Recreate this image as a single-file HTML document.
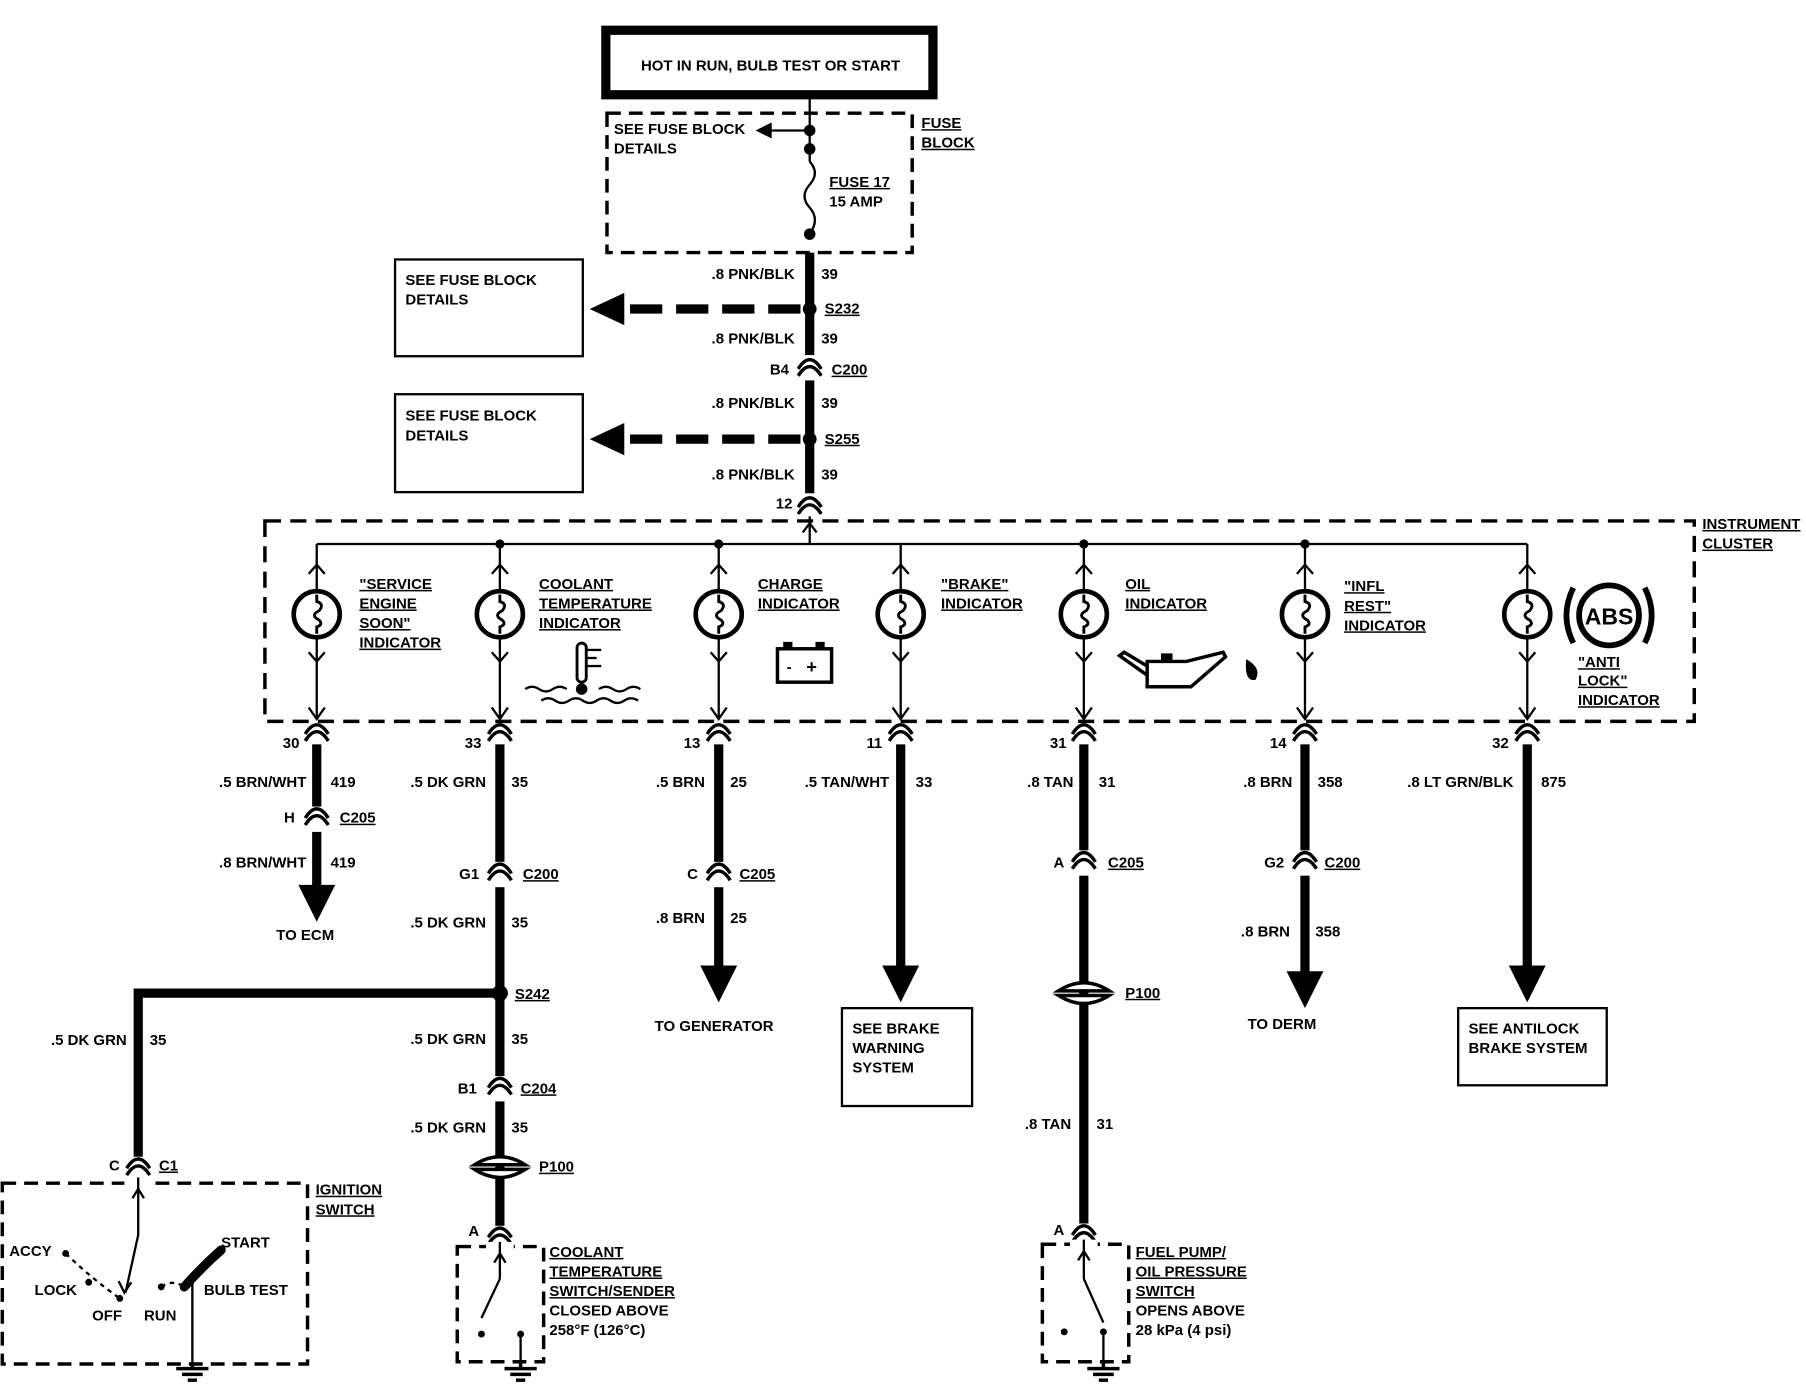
<!DOCTYPE html>
<html><head><meta charset="utf-8">
<style>
html,body{margin:0;padding:0;background:#fff;}
svg{display:block}
text{font-family:"Liberation Sans",sans-serif;font-weight:bold;font-size:13px;fill:#000}
.u{text-decoration:underline}
.r{text-anchor:end}
.m{text-anchor:middle}
</style></head><body>
<svg width="1806" height="1392" viewBox="0 0 1568 1208" xmlns="http://www.w3.org/2000/svg">
<defs>
<g id="conn"><path d="M-10,7 Q0,-9 10,7" fill="none" stroke="#000" stroke-width="3"/><path d="M-10,13 Q0,-3 10,13" fill="none" stroke="#000" stroke-width="3"/></g>
<g id="bulb">
<line x1="0" y1="0" x2="0" y2="40" stroke="#000" stroke-width="2"/>
<path d="M-7,26 L0,18 L7,26" fill="none" stroke="#000" stroke-width="2"/>
<circle cx="0" cy="61" r="20" fill="#fff" stroke="#000" stroke-width="4"/>
<path d="M0,44 L0,50 Q7,52 2,58 Q-6,62 2,66 Q6,70 0,72 L0,78" fill="none" stroke="#000" stroke-width="2.5"/>
<path d="M-7,94 L0,102 L7,94" fill="none" stroke="#000" stroke-width="2"/>
<line x1="0" y1="82" x2="0" y2="152" stroke="#000" stroke-width="2"/>
<path d="M-7,142 L0,152 L7,142" fill="none" stroke="#000" stroke-width="2"/>
</g>
<g id="gnd"><line x1="0" y1="0" x2="0" y2="6" stroke="#000" stroke-width="3"/><line x1="-14" y1="6" x2="14" y2="6" stroke="#000" stroke-width="3"/><line x1="-9" y1="11" x2="9" y2="11" stroke="#000" stroke-width="3"/><line x1="-4" y1="16" x2="4" y2="16" stroke="#000" stroke-width="3"/></g>
<g id="p100"><path d="M-22,0 Q0,-14 22,0 Z" fill="#fff" stroke="#000" stroke-width="3"/><path d="M-22,4 Q0,18 22,4 Z" fill="#fff" stroke="#000" stroke-width="3"/></g>
</defs>

<!-- top box -->
<rect x="526" y="26" width="284" height="56" fill="none" stroke="#000" stroke-width="8"/>
<text x="669" y="61" class="m">HOT IN RUN, BULB TEST OR START</text>

<!-- fuse block -->
<rect x="527" y="98" width="265" height="121" fill="none" stroke="#000" stroke-width="3" stroke-dasharray="12,7"/>
<text x="800" y="111" class="u">FUSE</text><text x="800" y="128" class="u">BLOCK</text>
<text x="533" y="116">SEE FUSE BLOCK</text><text x="533" y="133">DETAILS</text>
<line x1="703" y1="82" x2="703" y2="140" stroke="#000" stroke-width="2"/>
<line x1="703" y1="113" x2="668" y2="113" stroke="#000" stroke-width="2"/>
<path d="M656,113 L670,106 L670,120 Z"/>
<circle cx="703" cy="113" r="5"/><circle cx="703" cy="129" r="5"/><circle cx="703" cy="203" r="5"/>
<path d="M703,140 Q712,150 703,160 Q694,170 703,180 Q712,190 703,203" fill="none" stroke="#000" stroke-width="2"/>
<text x="720" y="162" class="u">FUSE 17</text><text x="720" y="179">15 AMP</text>

<!-- main feed -->
<line x1="703" y1="219" x2="703" y2="432" stroke="#000" stroke-width="8"/>
<text x="690" y="242" class="r">.8 PNK/BLK</text><text x="713" y="242">39</text>
<circle cx="703" cy="268" r="6"/>
<line x1="695" y1="268" x2="540" y2="268" stroke="#000" stroke-width="8" stroke-dasharray="28,12"/>
<path d="M512,268 L542,254 L542,282 Z"/>
<text x="716" y="272" class="u">S232</text>
<rect x="343" y="225" width="163" height="84" fill="none" stroke="#000" stroke-width="2"/>
<text x="352" y="247">SEE FUSE BLOCK</text><text x="352" y="264">DETAILS</text>
<text x="690" y="298" class="r">.8 PNK/BLK</text><text x="713" y="298">39</text>
<rect x="696" y="308" width="14" height="22" fill="#fff"/>
<use href="#conn" x="703" y="313"/>
<text x="685" y="325" class="r">B4</text><text x="722" y="325" class="u">C200</text>
<text x="690" y="354" class="r">.8 PNK/BLK</text><text x="713" y="354">39</text>
<circle cx="703" cy="381" r="6"/>
<line x1="695" y1="381" x2="540" y2="381" stroke="#000" stroke-width="8" stroke-dasharray="28,12"/>
<path d="M512,381 L542,367 L542,395 Z"/>
<text x="716" y="385" class="u">S255</text>
<rect x="343" y="342" width="163" height="85" fill="none" stroke="#000" stroke-width="2"/>
<text x="352" y="365">SEE FUSE BLOCK</text><text x="352" y="382">DETAILS</text>
<text x="690" y="416" class="r">.8 PNK/BLK</text><text x="713" y="416">39</text>
<text x="688" y="441" class="r">12</text>
<rect x="696" y="428" width="14" height="20" fill="#fff"/>
<use href="#conn" x="703" y="433"/>

<!-- instrument cluster -->
<rect x="230" y="452" width="1241" height="174" fill="none" stroke="#000" stroke-width="3" stroke-dasharray="14,8"/>
<text x="1478" y="459" class="u">INSTRUMENT</text><text x="1478" y="476" class="u">CLUSTER</text>
<line x1="275" y1="472" x2="1326" y2="472" stroke="#000" stroke-width="2"/>
<line x1="703" y1="448" x2="703" y2="472" stroke="#000" stroke-width="2"/>
<path d="M697,462 L703,454 L709,462" fill="none" stroke="#000" stroke-width="2"/>
<circle cx="434" cy="472" r="4"/><circle cx="624" cy="472" r="4"/><circle cx="941" cy="472" r="4"/><circle cx="1133" cy="472" r="4"/>
<use href="#bulb" x="275" y="472"/><use href="#bulb" x="434" y="472"/><use href="#bulb" x="624" y="472"/>
<use href="#bulb" x="782" y="472"/><use href="#bulb" x="941" y="472"/><use href="#bulb" x="1133" y="472"/><use href="#bulb" x="1326" y="472"/>

<text x="312" y="511" class="u">"SERVICE</text><text x="312" y="528" class="u">ENGINE</text><text x="312" y="545" class="u">SOON"</text><text x="312" y="562" class="u">INDICATOR</text>
<text x="468" y="511" class="u">COOLANT</text><text x="468" y="528" class="u">TEMPERATURE</text><text x="468" y="545" class="u">INDICATOR</text>
<text x="658" y="511" class="u">CHARGE</text><text x="658" y="528" class="u">INDICATOR</text>
<text x="817" y="511" class="u">"BRAKE"</text><text x="817" y="528" class="u">INDICATOR</text>
<text x="977" y="511" class="u">OIL</text><text x="977" y="528" class="u">INDICATOR</text>
<text x="1167" y="513" class="u">"INFL</text><text x="1167" y="530" class="u">REST"</text><text x="1167" y="547" class="u">INDICATOR</text>
<text x="1370" y="579" class="u">"ANTI</text><text x="1370" y="595" class="u">LOCK"</text><text x="1370" y="612" class="u">INDICATOR</text>
<!-- ABS icon -->
<circle cx="1397" cy="534" r="26" fill="none" stroke="#000" stroke-width="5"/>
<path d="M1366,510 Q1354,534 1366,558" fill="none" stroke="#000" stroke-width="5"/>
<path d="M1428,510 Q1440,534 1428,558" fill="none" stroke="#000" stroke-width="5"/>
<text x="1397" y="542" class="m" style="font-size:20px">ABS</text>
<!-- coolant icon -->
<rect x="501" y="558" width="8" height="34" rx="4" fill="none" stroke="#000" stroke-width="2.5"/>
<circle cx="505" cy="598" r="5"/>
<line x1="510" y1="564" x2="522" y2="564" stroke="#000" stroke-width="2"/><line x1="510" y1="571" x2="518" y2="571" stroke="#000" stroke-width="2"/><line x1="510" y1="578" x2="522" y2="578" stroke="#000" stroke-width="2"/>
<path d="M456,598 q6,-4 12,0 t12,0 t12,0 M520,598 q6,-4 12,0 t12,0 t12,0 M470,608 q6,-4 12,0 t12,0 t12,0 t12,0 t12,0 t12,0 t12,0" fill="none" stroke="#000" stroke-width="2"/>
<!-- battery icon -->
<rect x="675" y="563" width="47" height="29" fill="none" stroke="#000" stroke-width="3"/>
<rect x="680" y="557" width="8" height="6"/><rect x="708" y="557" width="8" height="6"/>
<text x="683" y="583">-</text><text x="700" y="584" style="font-size:16px">+</text>
<!-- oil can icon -->
<path d="M996,574 L1030,574 L1062,566 L1064,570 L1034,596 L996,596 Z M996,578 L976,566 L972,569 L996,586" fill="none" stroke="#000" stroke-width="3"/>
<rect x="1008" y="567" width="10" height="7"/>
<path d="M1082,572 Q1096,580 1090,590 Q1080,592 1082,572 Z"/>

<!-- pin numbers -->
<text x="260" y="649" class="r">30</text><text x="418" y="649" class="r">33</text><text x="608" y="649" class="r">13</text>
<text x="766" y="649" class="r">11</text><text x="926" y="649" class="r">31</text><text x="1117" y="649" class="r">14</text><text x="1310" y="649" class="r">32</text>

<g stroke="#000" stroke-width="8">
<line x1="275" y1="640" x2="275" y2="772"/>
<line x1="434" y1="640" x2="434" y2="1072"/>
<line x1="624" y1="640" x2="624" y2="842"/>
<line x1="782" y1="640" x2="782" y2="842"/>
<line x1="941" y1="640" x2="941" y2="1072"/>
<line x1="1133" y1="640" x2="1133" y2="848"/>
<line x1="1326" y1="640" x2="1326" y2="842"/>
<polyline points="434,862 120,862 120,1008" fill="none"/>
</g>
<g fill="#fff"><rect x="266" y="628" width="18" height="18"/><rect x="425" y="628" width="18" height="18"/><rect x="615" y="628" width="18" height="18"/><rect x="773" y="628" width="18" height="18"/><rect x="932" y="628" width="18" height="18"/><rect x="1124" y="628" width="18" height="18"/><rect x="1317" y="628" width="18" height="18"/></g>
<use href="#conn" x="275" y="630"/><use href="#conn" x="434" y="630"/><use href="#conn" x="624" y="630"/><use href="#conn" x="782" y="630"/><use href="#conn" x="941" y="630"/><use href="#conn" x="1133" y="630"/><use href="#conn" x="1326" y="630"/>

<!-- col1 -->
<text x="266" y="683" class="r">.5 BRN/WHT</text><text x="287" y="683">419</text>
<rect x="266" y="700" width="18" height="22" fill="#fff"/><use href="#conn" x="275" y="703"/>
<text x="256" y="714" class="r">H</text><text x="295" y="714" class="u">C205</text>
<text x="266" y="753" class="r">.8 BRN/WHT</text><text x="287" y="753">419</text>
<path d="M259,768 L291,768 L275,800 Z"/>
<text x="265" y="816" class="m">TO ECM</text>
<!-- col2 -->
<text x="422" y="683" class="r">.5 DK GRN</text><text x="444" y="683">35</text>
<rect x="425" y="748" width="18" height="22" fill="#fff"/><use href="#conn" x="434" y="751"/>
<text x="416" y="763" class="r">G1</text><text x="454" y="763" class="u">C200</text>
<text x="422" y="805" class="r">.5 DK GRN</text><text x="444" y="805">35</text>
<circle cx="434" cy="862" r="7"/><text x="447" y="867" class="u">S242</text>
<text x="110" y="907" class="r">.5 DK GRN</text><text x="130" y="907">35</text>
<text x="422" y="906" class="r">.5 DK GRN</text><text x="444" y="906">35</text>
<rect x="425" y="934" width="18" height="22" fill="#fff"/><use href="#conn" x="434" y="937"/>
<text x="414" y="949" class="r">B1</text><text x="452" y="949" class="u">C204</text>
<text x="422" y="983" class="r">.5 DK GRN</text><text x="444" y="983">35</text>
<use href="#p100" x="434" y="1011"/><text x="468" y="1017" class="u">P100</text>
<text x="416" y="1073" class="r">A</text>
<rect x="425" y="1064" width="18" height="20" fill="#fff"/><use href="#conn" x="434" y="1067"/>
<rect x="397" y="1082" width="75" height="100" fill="none" stroke="#000" stroke-width="3" stroke-dasharray="12,7"/>
<rect x="422" y="1078" width="24" height="8" fill="#fff"/>
<line x1="434" y1="1078" x2="434" y2="1110" stroke="#000" stroke-width="2"/>
<path d="M429,1096 L434,1088 L439,1096" fill="none" stroke="#000" stroke-width="2"/>
<line x1="434" y1="1110" x2="418" y2="1144" stroke="#000" stroke-width="2"/>
<circle cx="418" cy="1158" r="3"/><circle cx="452" cy="1158" r="3"/>
<line x1="452" y1="1158" x2="452" y2="1182" stroke="#000" stroke-width="2"/>
<use href="#gnd" x="452" y="1182"/>
<text x="477" y="1091" class="u">COOLANT</text><text x="477" y="1108" class="u">TEMPERATURE</text><text x="477" y="1125" class="u">SWITCH/SENDER</text><text x="477" y="1142">CLOSED ABOVE</text><text x="477" y="1159">258°F (126°C)</text>
<!-- col3 -->
<text x="612" y="683" class="r">.5 BRN</text><text x="634" y="683">25</text>
<rect x="615" y="748" width="18" height="22" fill="#fff"/><use href="#conn" x="624" y="751"/>
<text x="606" y="763" class="r">C</text><text x="642" y="763" class="u">C205</text>
<text x="612" y="801" class="r">.8 BRN</text><text x="634" y="801">25</text>
<path d="M608,838 L640,838 L624,870 Z"/>
<text x="620" y="895" class="m">TO GENERATOR</text>
<!-- col4 -->
<text x="772" y="683" class="r">.5 TAN/WHT</text><text x="795" y="683">33</text>
<path d="M766,838 L798,838 L782,870 Z"/>
<rect x="731" y="875" width="113" height="85" fill="none" stroke="#000" stroke-width="2"/>
<text x="740" y="897">SEE BRAKE</text><text x="740" y="914">WARNING</text><text x="740" y="931">SYSTEM</text>
<!-- col5 -->
<text x="932" y="683" class="r">.8 TAN</text><text x="954" y="683">31</text>
<rect x="932" y="738" width="18" height="22" fill="#fff"/><use href="#conn" x="941" y="741"/>
<text x="924" y="753" class="r">A</text><text x="962" y="753" class="u">C205</text>
<use href="#p100" x="941" y="860"/><text x="977" y="866" class="u">P100</text>
<text x="930" y="980" class="r">.8 TAN</text><text x="952" y="980">31</text>
<text x="924" y="1072" class="r">A</text>
<rect x="932" y="1062" width="18" height="20" fill="#fff"/><use href="#conn" x="941" y="1065"/>
<rect x="905" y="1080" width="75" height="102" fill="none" stroke="#000" stroke-width="3" stroke-dasharray="12,7"/>
<rect x="929" y="1076" width="24" height="8" fill="#fff"/>
<line x1="941" y1="1076" x2="941" y2="1110" stroke="#000" stroke-width="2"/>
<path d="M936,1094 L941,1086 L946,1094" fill="none" stroke="#000" stroke-width="2"/>
<line x1="941" y1="1110" x2="958" y2="1148" stroke="#000" stroke-width="2"/>
<circle cx="924" cy="1156" r="3"/><circle cx="958" cy="1156" r="3"/>
<line x1="958" y1="1156" x2="958" y2="1182" stroke="#000" stroke-width="2"/>
<use href="#gnd" x="958" y="1182"/>
<text x="986" y="1091" class="u">FUEL PUMP/</text><text x="986" y="1108" class="u">OIL PRESSURE</text><text x="986" y="1125" class="u">SWITCH</text><text x="986" y="1142">OPENS ABOVE</text><text x="986" y="1159">28 kPa (4 psi)</text>
<!-- col6 -->
<text x="1122" y="683" class="r">.8 BRN</text><text x="1144" y="683">358</text>
<rect x="1124" y="738" width="18" height="22" fill="#fff"/><use href="#conn" x="1133" y="741"/>
<text x="1115" y="753" class="r">G2</text><text x="1150" y="753" class="u">C200</text>
<text x="1120" y="813" class="r">.8 BRN</text><text x="1142" y="813">358</text>
<path d="M1117,843 L1149,843 L1133,875 Z"/>
<text x="1113" y="893" class="m">TO DERM</text>
<!-- col7 -->
<text x="1314" y="683" class="r">.8 LT GRN/BLK</text><text x="1338" y="683">875</text>
<path d="M1310,838 L1342,838 L1326,870 Z"/>
<rect x="1266" y="875" width="129" height="67" fill="none" stroke="#000" stroke-width="2"/>
<text x="1275" y="897">SEE ANTILOCK</text><text x="1275" y="914">BRAKE SYSTEM</text>

<!-- ignition switch -->
<rect x="111" y="1004" width="18" height="20" fill="#fff"/><use href="#conn" x="120" y="1007"/>
<text x="104" y="1016" class="r">C</text><text x="138" y="1016" class="u">C1</text>
<rect x="2" y="1027" width="265" height="157" fill="none" stroke="#000" stroke-width="3" stroke-dasharray="12,7"/>
<rect x="108" y="1022" width="24" height="10" fill="#fff"/>
<text x="274" y="1037" class="u">IGNITION</text><text x="274" y="1054" class="u">SWITCH</text>
<line x1="120" y1="1022" x2="120" y2="1072" stroke="#000" stroke-width="2"/>
<path d="M115,1040 L120,1032 L125,1040" fill="none" stroke="#000" stroke-width="2"/>
<line x1="120" y1="1072" x2="109" y2="1122" stroke="#000" stroke-width="2"/>
<path d="M103,1112 L108,1122 L114,1113" fill="none" stroke="#000" stroke-width="2"/>
<text x="8" y="1090">ACCY</text><circle cx="57" cy="1088" r="3"/>
<text x="30" y="1124">LOCK</text><circle cx="77" cy="1113" r="3"/>
<circle cx="104" cy="1127" r="3"/><text x="80" y="1146">OFF</text>
<circle cx="140" cy="1117" r="3"/><text x="125" y="1146">RUN</text>
<path d="M57,1088 Q80,1110 104,1127 M140,1117 Q150,1110 160,1117" fill="none" stroke="#000" stroke-width="2" stroke-dasharray="4,4"/>
<path d="M160,1117 Q175,1100 192,1085" fill="none" stroke="#000" stroke-width="8" stroke-linecap="round"/>
<text x="192" y="1083">START</text><text x="177" y="1124">BULB TEST</text>
<line x1="167" y1="1112" x2="167" y2="1182" stroke="#000" stroke-width="2"/>
<use href="#gnd" x="167" y="1182"/>
</svg>
</body></html>
